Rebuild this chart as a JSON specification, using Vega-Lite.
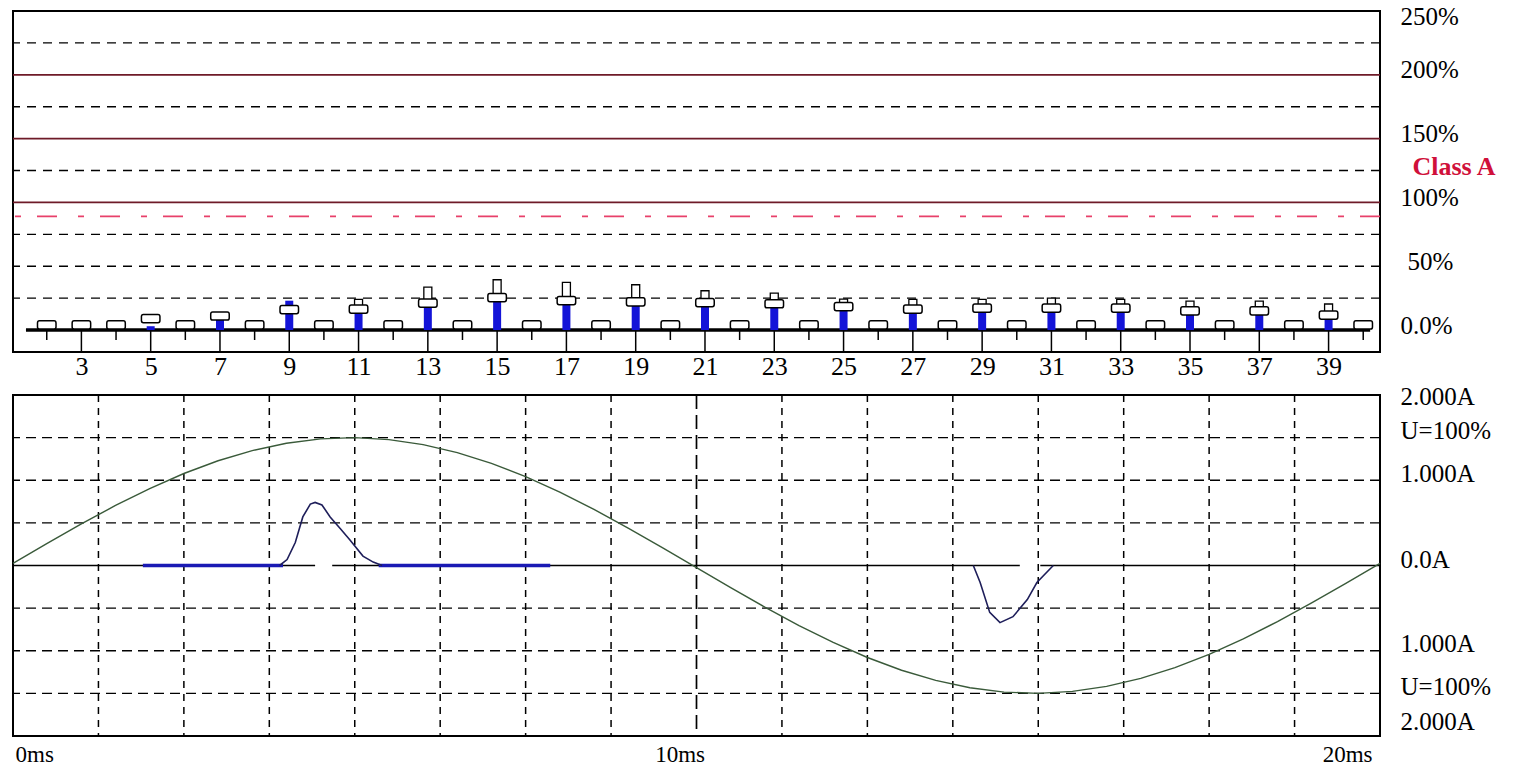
{
  "$schema": "https://vega.github.io/schema/vega-lite/v6.json",
  "padding": {"left": 9, "top": 3, "right": 0, "bottom": 0},
  "background": "white",
  "config": {"font": "Liberation Serif", "view": {"stroke": "black", "strokeWidth": 2}},
  "spacing": 43,
  "bounds": "flush",
  "datasets": {
    "harm": [
      {"h": 2, "val": 0, "avg": 4, "max": null},
      {"h": 3, "val": 0, "avg": 4, "max": null},
      {"h": 4, "val": 0, "avg": 4, "max": null},
      {"h": 5, "val": 3, "avg": 9, "max": null},
      {"h": 6, "val": 0, "avg": 4, "max": null},
      {"h": 7, "val": 9, "avg": 11, "max": null},
      {"h": 8, "val": 0, "avg": 4, "max": null},
      {"h": 9, "val": 23, "avg": 16, "max": null},
      {"h": 10, "val": 0, "avg": 4, "max": null},
      {"h": 11, "val": 17, "avg": 16.4, "max": 24},
      {"h": 12, "val": 0, "avg": 4, "max": null},
      {"h": 13, "val": 21.1, "avg": 21.1, "max": 33.7},
      {"h": 14, "val": 0, "avg": 4, "max": null},
      {"h": 15, "val": 25.4, "avg": 25.4, "max": 39.4},
      {"h": 16, "val": 0, "avg": 4, "max": null},
      {"h": 17, "val": 23.1, "avg": 23.1, "max": 37.4},
      {"h": 18, "val": 0, "avg": 4, "max": null},
      {"h": 19, "val": 22.1, "avg": 22.1, "max": 35.5},
      {"h": 20, "val": 0, "avg": 4, "max": null},
      {"h": 21, "val": 21.5, "avg": 21.5, "max": 30.8},
      {"h": 22, "val": 0, "avg": 4, "max": null},
      {"h": 23, "val": 20.6, "avg": 20.6, "max": 29},
      {"h": 24, "val": 0, "avg": 4, "max": null},
      {"h": 25, "val": 18.4, "avg": 18.4, "max": 24.3},
      {"h": 26, "val": 0, "avg": 4, "max": null},
      {"h": 27, "val": 16.4, "avg": 16.4, "max": 24},
      {"h": 28, "val": 0, "avg": 4, "max": null},
      {"h": 29, "val": 17.2, "avg": 17.2, "max": 24},
      {"h": 30, "val": 0, "avg": 4, "max": null},
      {"h": 31, "val": 17.2, "avg": 17.2, "max": 25},
      {"h": 32, "val": 0, "avg": 4, "max": null},
      {"h": 33, "val": 17.2, "avg": 17.2, "max": 24},
      {"h": 34, "val": 0, "avg": 4, "max": null},
      {"h": 35, "val": 15, "avg": 15, "max": 22.7},
      {"h": 36, "val": 0, "avg": 4, "max": null},
      {"h": 37, "val": 15, "avg": 15, "max": 22.7},
      {"h": 38, "val": 0, "avg": 4, "max": null},
      {"h": 39, "val": 11.7, "avg": 11.7, "max": 20.4},
      {"h": 40, "val": 0, "avg": 4, "max": null}
    ],
    "volt": [
      {"t": 0, "a": 0.026}, {"t": 0.5, "a": 0.26}, {"t": 1, "a": 0.488}, {"t": 1.5, "a": 0.704},
      {"t": 2, "a": 0.903}, {"t": 2.5, "a": 1.079}, {"t": 3, "a": 1.229}, {"t": 3.5, "a": 1.348},
      {"t": 4, "a": 1.434}, {"t": 4.5, "a": 1.485}, {"t": 5, "a": 1.5}, {"t": 5.5, "a": 1.477},
      {"t": 6, "a": 1.418}, {"t": 6.5, "a": 1.324}, {"t": 7, "a": 1.198}, {"t": 7.5, "a": 1.042},
      {"t": 8, "a": 0.86}, {"t": 8.5, "a": 0.658}, {"t": 9, "a": 0.439}, {"t": 9.5, "a": 0.209},
      {"t": 10, "a": -0.026}, {"t": 10.5, "a": -0.26}, {"t": 11, "a": -0.488}, {"t": 11.5, "a": -0.704},
      {"t": 12, "a": -0.903}, {"t": 12.5, "a": -1.079}, {"t": 13, "a": -1.229}, {"t": 13.5, "a": -1.348},
      {"t": 14, "a": -1.434}, {"t": 14.5, "a": -1.485}, {"t": 15, "a": -1.5}, {"t": 15.5, "a": -1.477},
      {"t": 16, "a": -1.418}, {"t": 16.5, "a": -1.324}, {"t": 17, "a": -1.198}, {"t": 17.5, "a": -1.042},
      {"t": 18, "a": -0.86}, {"t": 18.5, "a": -0.658}, {"t": 19, "a": -0.439}, {"t": 19.5, "a": -0.209},
      {"t": 20, "a": 0.026}
    ],
    "pulse": [
      {"seg": "p1", "t": 3.9, "a": 0}, {"seg": "p1", "t": 4.01, "a": 0.07}, {"seg": "p1", "t": 4.13, "a": 0.27},
      {"seg": "p1", "t": 4.24, "a": 0.57}, {"seg": "p1", "t": 4.35, "a": 0.72}, {"seg": "p1", "t": 4.42, "a": 0.74},
      {"seg": "p1", "t": 4.52, "a": 0.71}, {"seg": "p1", "t": 4.64, "a": 0.57}, {"seg": "p1", "t": 4.79, "a": 0.43},
      {"seg": "p1", "t": 4.93, "a": 0.3}, {"seg": "p1", "t": 5.12, "a": 0.11}, {"seg": "p1", "t": 5.27, "a": 0.04},
      {"seg": "p1", "t": 5.4, "a": 0},
      {"seg": "p2", "t": 14.05, "a": 0}, {"seg": "p2", "t": 14.15, "a": -0.2}, {"seg": "p2", "t": 14.29, "a": -0.55},
      {"seg": "p2", "t": 14.44, "a": -0.67}, {"seg": "p2", "t": 14.63, "a": -0.6}, {"seg": "p2", "t": 14.84, "a": -0.4},
      {"seg": "p2", "t": 14.98, "a": -0.2}, {"seg": "p2", "t": 15.22, "a": 0}
    ]
  },
  "vconcat": [
    {
      "width": 1367,
      "height": 341,
      "layer": [
        {
          "data": {"values": [{"pct": 25}, {"pct": 50}, {"pct": 75}, {"pct": 125}, {"pct": 175}, {"pct": 225}]},
          "mark": {"type": "rule", "color": "black", "strokeWidth": 1.4, "strokeDash": [9, 7]},
          "encoding": {
            "y": {
              "field": "pct", "type": "quantitative", "title": null,
              "scale": {"domain": [-17.2, 250], "nice": false, "zero": false},
              "axis": {
                "orient": "right", "values": [0, 50, 100, 128, 150, 200, 250], "title": null,
                "grid": false, "domain": false, "ticks": false,
                "labelFont": "Liberation Serif",
                "labelFontSize": {"condition": {"test": "datum.value == 128", "value": 26}, "value": 25},
                "labelBaseline": "alphabetic",
                "labelExpr": "datum.value == 0 ? '0.0%' : datum.value == 128 ? 'Class A' : datum.value + '%'",
                "labelColor": {"condition": {"test": "datum.value == 128", "value": "#d0103a"}, "value": "black"},
                "labelFontWeight": {"condition": {"test": "datum.value == 128", "value": "bold"}, "value": "normal"},
                "labelOffset": {"condition": [{"test": "datum.value == 250", "value": 13}, {"test": "datum.value == 128", "value": 8}], "value": 3},
                "labelPadding": {"condition": [{"test": "datum.value == 50", "value": 27}, {"test": "datum.value == 128", "value": 32}], "value": 20}
              }
            }
          }
        },
        {
          "data": {"values": [{"pct": 100}, {"pct": 150}, {"pct": 200}]},
          "mark": {"type": "rule", "color": "#6e1a28", "strokeWidth": 1.7},
          "encoding": {"y": {"field": "pct", "type": "quantitative", "title": null, "scale": {"domain": [-17.2, 250], "nice": false, "zero": false}}}
        },
        {
          "data": {"values": [{"pct": 89}]},
          "mark": {"type": "rule", "color": "#e8406a", "strokeWidth": 1.7, "strokeDash": [20, 16, 6, 21]},
          "encoding": {"y": {"field": "pct", "type": "quantitative", "title": null, "scale": {"domain": [-17.2, 250], "nice": false, "zero": false}}}
        },
        {
          "data": {"name": "harm"},
          "transform": [{"filter": "datum.h % 2 == 1"}],
          "mark": {"type": "rule", "color": "black", "strokeWidth": 1.5},
          "encoding": {
            "x": {"field": "h", "type": "quantitative", "title": null, "scale": {"domain": [1.17, 40.34], "nice": false, "zero": false}},
            "y": {"datum": 0, "type": "quantitative", "title": null, "scale": {"domain": [-17.2, 250], "nice": false, "zero": false}},
            "y2": {"datum": -17.2}
          }
        },
        {
          "data": {"name": "harm"},
          "transform": [{"filter": "datum.h % 2 == 0"}],
          "mark": {"type": "rule", "color": "black", "strokeWidth": 1.5},
          "encoding": {
            "x": {"field": "h", "type": "quantitative", "title": null, "scale": {"domain": [1.17, 40.34], "nice": false, "zero": false}},
            "y": {"datum": 0, "type": "quantitative", "title": null},
            "y2": {"datum": -7.8}
          }
        },
        {
          "data": {"values": [{}]},
          "mark": {"type": "rule", "color": "black", "strokeWidth": 3.5},
          "encoding": {
            "x": {"datum": 1.4, "type": "quantitative", "title": null},
            "x2": {"datum": 40.2},
            "y": {"datum": 0, "type": "quantitative", "title": null}
          }
        },
        {
          "data": {"name": "harm"},
          "transform": [{"filter": "datum.val > 0"}],
          "mark": {"type": "bar", "orient": "vertical", "color": "#1414d8", "width": 8},
          "encoding": {
            "x": {"field": "h", "type": "quantitative", "title": null},
            "y": {"field": "val", "type": "quantitative", "title": null},
            "y2": {"datum": 0}
          }
        },
        {
          "data": {"name": "harm"},
          "transform": [{"filter": "isValid(datum.max)"}],
          "mark": {"type": "bar", "orient": "vertical", "fill": "white", "stroke": "black", "strokeWidth": 1.3, "width": 8},
          "encoding": {
            "x": {"field": "h", "type": "quantitative", "title": null},
            "y": {"field": "max", "type": "quantitative", "title": null},
            "y2": {"field": "avg"}
          }
        },
        {
          "data": {"name": "harm"},
          "mark": {
            "type": "point", "filled": true, "fill": "white", "stroke": "black", "strokeWidth": 1.5, "opacity": 1, "size": 380,
            "shape": "M-0.75,-0.42 L0.75,-0.42 Q0.95,-0.42 0.95,-0.2 L0.95,0.2 Q0.95,0.42 0.75,0.42 L-0.75,0.42 Q-0.95,0.42 -0.95,0.2 L-0.95,-0.2 Q-0.95,-0.42 -0.75,-0.42 Z"
          },
          "encoding": {
            "x": {
              "field": "h", "type": "quantitative", "title": null,
              "scale": {"domain": [1.17, 40.34], "nice": false, "zero": false},
              "axis": {
                "orient": "bottom", "values": [3, 5, 7, 9, 11, 13, 15, 17, 19, 21, 23, 25, 27, 29, 31, 33, 35, 37, 39],
                "title": null, "domain": false, "ticks": false, "grid": false,
                "labelFont": "Liberation Serif", "labelFontSize": 26, "labelPadding": 1, "labelColor": "black"
              }
            },
            "y": {"field": "avg", "type": "quantitative", "title": null}
          }
        }
      ]
    },
    {
      "width": 1367,
      "height": 341,
      "layer": [
        {
          "data": {"values": [{"a": 1.5}, {"a": 1}, {"a": 0.5}, {"a": -0.5}, {"a": -1}, {"a": -1.5}]},
          "mark": {"type": "rule", "color": "black", "strokeWidth": 1.4, "strokeDash": [10, 6]},
          "encoding": {
            "y": {
              "field": "a", "type": "quantitative", "title": null,
              "scale": {"domain": [-2, 2], "nice": false, "zero": false},
              "axis": {
                "orient": "right", "values": [2, 1.5, 1, 0, -1, -1.5, -2], "title": null,
                "grid": false, "domain": false, "ticks": false,
                "labelFont": "Liberation Serif", "labelFontSize": 25, "labelPadding": 20,
                "labelBaseline": "alphabetic",
                "labelExpr": "datum.value == 0 ? '0.0A' : abs(datum.value) == 1.5 ? 'U=100%' : format(abs(datum.value), '.3f') + 'A'",
                "labelOffset": {"condition": [{"test": "datum.value == 2", "value": 9}, {"test": "datum.value == -2", "value": -7}, {"test": "datum.value == 0", "value": 2}], "value": 1}
              }
            }
          }
        },
        {
          "data": {"values": [{"t": 1.25}, {"t": 2.5}, {"t": 3.75}, {"t": 5}, {"t": 6.25}, {"t": 7.5}, {"t": 8.75}, {"t": 11.25}, {"t": 12.5}, {"t": 13.75}, {"t": 15}, {"t": 16.25}, {"t": 17.5}, {"t": 18.75}]},
          "mark": {"type": "rule", "color": "black", "strokeWidth": 1.5, "strokeDash": [7, 6]},
          "encoding": {
            "x": {
              "field": "t", "type": "quantitative", "title": null,
              "scale": {"domain": [0, 20], "nice": false, "zero": false},
              "axis": {
                "orient": "bottom", "values": [0, 10, 20], "title": null,
                "grid": false, "domain": false, "ticks": false,
                "labelFont": "Liberation Serif", "labelFontSize": 23, "labelPadding": 7, "labelColor": "black",
                "labelExpr": "datum.value + 'ms'",
                "labelAlign": {"condition": {"test": "datum.value == 0", "value": "left"}, "value": "right"},
                "labelOffset": {"condition": [{"test": "datum.value == 0", "value": 2}, {"test": "datum.value == 10", "value": 8}], "value": -8}
              }
            }
          }
        },
        {
          "data": {"values": [{"t": 10}]},
          "mark": {"type": "rule", "color": "black", "strokeWidth": 1.7, "strokeDash": [14, 6]},
          "encoding": {"x": {"field": "t", "type": "quantitative", "title": null}}
        },
        {
          "data": {"values": [{"t1": 0, "t2": 4.42}, {"t1": 4.67, "t2": 14.73}, {"t1": 15.03, "t2": 20}]},
          "mark": {"type": "rule", "color": "black", "strokeWidth": 1.6},
          "encoding": {
            "x": {"field": "t1", "type": "quantitative", "title": null},
            "x2": {"field": "t2"},
            "y": {"datum": 0, "type": "quantitative", "title": null}
          }
        },
        {
          "data": {"values": [{"t1": 1.9, "t2": 3.95}, {"t1": 5.35, "t2": 7.86}]},
          "mark": {"type": "rule", "color": "#1a1ab4", "strokeWidth": 3.5},
          "encoding": {
            "x": {"field": "t1", "type": "quantitative", "title": null},
            "x2": {"field": "t2"},
            "y": {"datum": 0, "type": "quantitative", "title": null}
          }
        },
        {
          "data": {"name": "volt"},
          "mark": {"type": "line", "color": "#3a5a3a", "strokeWidth": 1.4},
          "encoding": {
            "x": {"field": "t", "type": "quantitative", "title": null},
            "y": {"field": "a", "type": "quantitative", "title": null}
          }
        },
        {
          "data": {"name": "pulse"},
          "mark": {"type": "line", "color": "#1e1e5a", "strokeWidth": 1.6},
          "encoding": {
            "x": {"field": "t", "type": "quantitative", "title": null},
            "y": {"field": "a", "type": "quantitative", "title": null},
            "detail": {"field": "seg"}
          }
        }
      ]
    }
  ]
}
